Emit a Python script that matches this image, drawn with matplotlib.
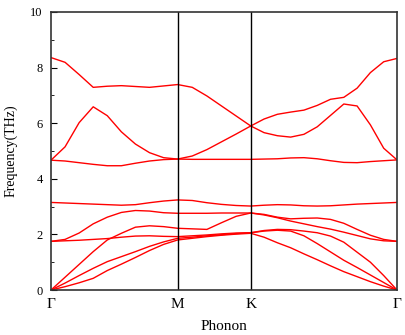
import matplotlib
matplotlib.use("Agg")
import matplotlib.pyplot as plt
import numpy as np

plt.rcParams["font.family"] = ["Liberation Serif", "DejaVu Serif"]

# high-symmetry path: segment lengths (hexagonal BZ) and sample counts
seg_len = [0.5774, 0.3333, 0.6667]
seg_n = [9, 5, 11]
labels = ["Γ", "M", "K", "Γ"]

# frequencies (THz) at each sampled k-point along Γ-M-K-Γ (26 points)
band1 = [0, 0.12, 0.26, 0.42, 0.70, 0.93, 1.17, 1.42, 1.64, 1.80,
         1.86, 1.92, 1.97, 2.01, 2.04,
         1.90, 1.70, 1.52, 1.30, 1.09, 0.87, 0.66, 0.48, 0.30, 0.14, 0]
band2 = [0, 0.25, 0.52, 0.78, 1.02, 1.20, 1.38, 1.57, 1.73, 1.86,
         1.90, 1.95, 1.99, 2.03, 2.06,
         2.12, 2.15, 2.12, 1.95, 1.67, 1.37, 1.07, 0.81, 0.54, 0.27, 0]
band3 = [1.75, 1.77, 1.79, 1.82, 1.85, 1.90, 1.94, 1.95, 1.93, 1.92,
         1.95, 1.98, 2.02, 2.05, 2.06,
         2.14, 2.18, 2.17, 2.12, 2.06, 1.94, 1.72, 1.36, 1.00, 0.52, 0]
band4 = [0, 0.46, 0.92, 1.38, 1.80, 2.04, 2.26, 2.31, 2.28, 2.22,
         2.20, 2.18, 2.42, 2.65, 2.77,
         2.70, 2.60, 2.48, 2.38, 2.28, 2.19, 2.08, 1.96, 1.84, 1.77, 1.75]
band5 = [1.75, 1.82, 2.05, 2.38, 2.62, 2.79, 2.86, 2.84, 2.78, 2.76,
         2.76, 2.76, 2.77, 2.77, 2.77,
         2.72, 2.62, 2.56, 2.58, 2.59, 2.54, 2.40, 2.18, 1.97, 1.82, 1.75]
band6 = [3.15, 3.13, 3.11, 3.09, 3.07, 3.05, 3.07, 3.14, 3.20, 3.24,
         3.22, 3.14, 3.08, 3.04, 3.02,
         3.05, 3.07, 3.06, 3.03, 3.02, 3.03, 3.06, 3.09, 3.11, 3.13, 3.15]
band7 = [4.67, 4.64, 4.58, 4.52, 4.47, 4.47, 4.56, 4.64, 4.69, 4.71,
         4.70, 4.70, 4.70, 4.70, 4.70,
         4.71, 4.72, 4.75, 4.76, 4.72, 4.65, 4.59, 4.58, 4.62, 4.65, 4.68]
band8 = [4.67, 5.15, 6.02, 6.59, 6.27, 5.69, 5.25, 4.94, 4.76, 4.71,
         4.82, 5.05, 5.33, 5.61, 5.90,
         5.66, 5.55, 5.50, 5.60, 5.87, 6.28, 6.69, 6.62, 5.94, 5.10, 4.68]
band9 = [8.36, 8.19, 7.75, 7.29, 7.33, 7.35, 7.32, 7.29, 7.34, 7.39,
         7.29, 6.98, 6.62, 6.26, 5.90,
         6.15, 6.32, 6.40, 6.47, 6.64, 6.86, 6.93, 7.26, 7.82, 8.21, 8.33]
bands = [band1, band2, band3, band4, band5, band6, band7, band8, band9]

# build k distances
nodes = np.concatenate([[0], np.cumsum(seg_len)])
k = [0.0]
for i, n in enumerate(seg_n):
    k.extend(np.linspace(nodes[i], nodes[i + 1], n + 1)[1:])
k = np.array(k)

fig = plt.figure(figsize=(4.06, 3.35), dpi=100)
ax = fig.add_axes([0.1256, 0.1343, 0.8522, 0.8299])

for b in bands:
    ax.plot(k, b, color="#ff0000", lw=1.0)

for xn in nodes[1:-1]:
    ax.axvline(xn, color="black", lw=1.0)

ax.set_xlim(nodes[0], nodes[-1])
ax.set_ylim(0, 10)
ax.set_xticks(nodes)
ax.set_xticklabels(labels, fontsize=11)
ax.set_yticks([0, 2, 4, 6, 8, 10])
ax.set_yticks([1, 3, 5, 7, 9], minor=True)
ax.tick_params(axis="y", which="both", direction="in", labelsize=9, right=False, pad=6)
ax.tick_params(axis="y", which="major", length=4)
ax.tick_params(axis="y", which="minor", length=2)
ax.tick_params(axis="x", length=0, pad=6)
ax.set_ylabel("Frequency(THz)", fontsize=10, labelpad=9)
ax.set_xlabel("Phonon", fontsize=11, labelpad=6)
for s in ax.spines.values():
    s.set_linewidth(1.2)
    s.set_color("#333333")

fig.savefig("out.png", dpi=100)
